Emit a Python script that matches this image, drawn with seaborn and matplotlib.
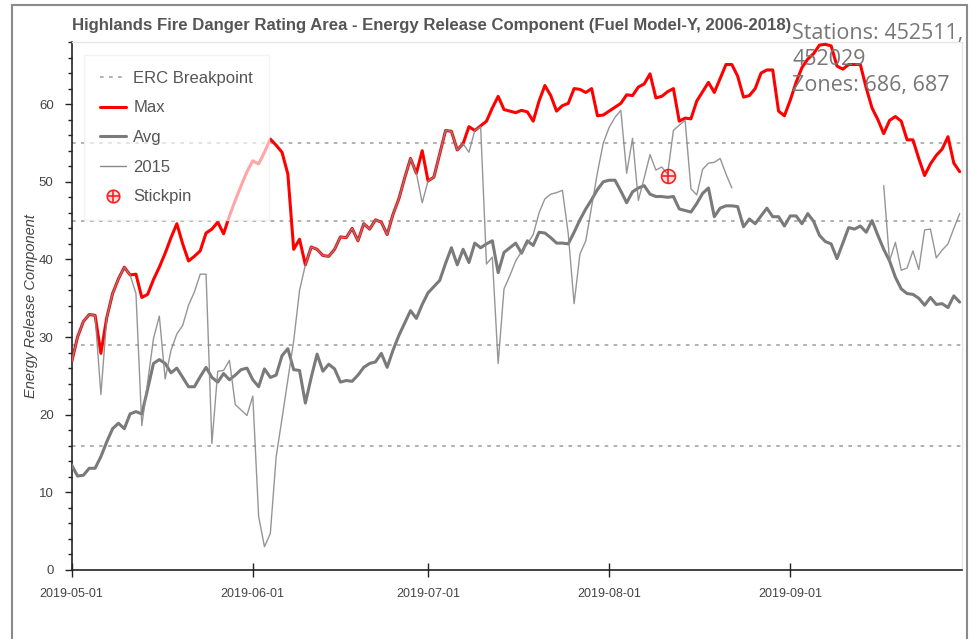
import numpy as np
import pandas as pd
import matplotlib
matplotlib.use("Agg")
import matplotlib.pyplot as plt
import matplotlib.dates as mdates
from matplotlib.lines import Line2D
from matplotlib.legend_handler import HandlerTuple
from matplotlib.ticker import MultipleLocator
import seaborn as sns

# Daily values, 2019-05-01 .. 2019-09-30
dates = pd.date_range("2019-05-01", "2019-09-30", freq="D")

max_erc = [
    26.8, 30.0, 32.0, 32.9, 32.8, 27.9, 32.5, 35.6, 37.5, 39.0,
    38.0, 38.1, 35.1, 35.5, 37.4, 39.0, 40.8, 42.8, 44.6, 42.0,
    39.8, 40.4, 41.1, 43.4, 43.9, 44.8, 43.3, 45.6, 47.6, 49.5,
    51.3, 52.7, 52.3, 53.8, 55.5, 54.7, 53.8, 51.0, 41.3, 42.6,
    39.3, 41.6, 41.3, 40.5, 40.4, 41.3, 42.9, 42.8, 44.0, 42.4,
    44.6, 43.9, 45.1, 44.8, 43.2, 45.8, 47.8, 50.5, 53.0, 51.1,
    54.0, 50.1, 50.6, 53.6, 56.6, 56.5, 54.1, 54.9, 57.1, 56.6,
    57.2, 57.8, 59.5, 61.0, 59.3, 59.1, 58.9, 59.2, 59.0, 57.8,
    60.4, 62.4, 61.1, 59.1, 59.8, 60.1, 62.0, 61.9, 61.5, 62.0,
    58.5, 58.6, 59.1, 59.6, 60.1, 61.2, 61.1, 62.2, 62.6, 63.9,
    60.8, 61.0, 61.6, 62.0, 57.8, 58.2, 58.1, 60.4, 61.6, 62.8,
    61.5, 63.3, 65.1, 65.1, 63.6, 60.9, 61.1, 62.0, 64.0, 64.4,
    64.4, 59.1, 58.5, 60.5, 62.8, 64.7, 65.8, 66.5, 67.6, 67.7,
    67.5, 64.9, 64.5, 65.1, 65.1, 65.1, 62.1, 59.5, 58.0, 56.2,
    57.9, 58.4, 57.8, 55.4, 55.4, 53.0, 50.8, 52.3, 53.4, 54.2,
    55.8, 52.4, 51.3,
]

avg_erc = [
    13.5, 12.1, 12.2, 13.1, 13.1, 14.6, 16.5, 18.2, 18.9, 18.2,
    20.1, 20.4, 20.1, 23.3, 26.6, 27.1, 26.6, 25.4, 26.0, 24.8,
    23.6, 23.6, 24.9, 26.1, 24.8, 24.2, 25.3, 24.5, 25.1, 25.8,
    26.0, 24.5, 23.6, 25.9, 24.8, 25.1, 27.6, 28.5, 25.8, 25.7,
    21.5, 24.8, 27.8, 25.6, 26.5, 25.9, 24.2, 24.4, 24.3, 25.1,
    26.1, 26.6, 26.8, 27.9, 26.1, 28.3, 30.2, 31.8, 33.4, 32.4,
    34.2, 35.7, 36.5, 37.3, 39.5, 41.5, 39.3, 41.3, 39.6, 42.1,
    41.5, 42.0, 42.4, 38.3, 40.9, 41.5, 42.1, 40.8, 42.4, 41.8,
    43.5, 43.4, 42.8, 42.1, 42.1, 42.0, 43.5, 45.1, 46.5, 47.7,
    49.0, 50.0, 50.2, 50.2, 48.8, 47.3, 48.7, 49.2, 49.5, 48.4,
    48.1, 48.1, 48.0, 48.1, 46.5, 46.3, 46.1, 47.2, 48.5, 49.2,
    45.5, 46.6, 46.9, 46.9, 46.8, 44.2, 45.2, 44.6, 45.6, 46.6,
    45.5, 45.5, 44.3, 45.6, 45.6, 44.6, 45.9, 44.9, 43.1, 42.3,
    42.0, 40.1, 42.1, 44.1, 43.9, 44.3, 43.5, 45.0, 43.1, 41.3,
    39.8, 37.7, 36.2, 35.6, 35.5, 35.0, 34.1, 35.1, 34.2, 34.3,
    33.8, 35.3, 34.5,
]

nan = np.nan
erc_2015 = [
    26.8, 30.0, 32.0, 32.9, 32.8, 22.6, 32.5, 35.6, 37.5, 39.0,
    38.0, 35.6, 18.6, 24.2, 29.8, 32.7, 24.6, 28.3, 30.4, 31.5,
    34.1, 35.8, 38.1, 38.1, 16.3, 25.6, 25.7, 27.0, 21.3, 20.6,
    19.9, 22.4, 6.9, 3.0, 4.7, 14.6, 19.5, 24.5, 29.5, 36.0,
    39.3, 41.6, 41.3, 40.5, 40.4, 41.3, 42.9, 42.8, 44.0, 42.4,
    44.6, 43.9, 45.1, 44.8, 43.2, 45.8, 47.8, 50.5, 53.0, 51.1,
    47.3, 50.1, 50.6, 53.6, 56.6, 56.5, 54.1, 54.9, 53.8, 56.6,
    57.1, 39.4, 40.3, 26.6, 36.2, 37.9, 39.8, 41.0, 42.0, 43.2,
    46.0, 47.8, 48.4, 48.6, 48.9, 43.3, 34.3, 40.7, 42.4, 46.8,
    51.2, 55.0, 57.0, 58.3, 59.2, 51.1, 55.6, 47.6, 50.5, 53.5,
    51.5, 51.9, 51.0, 56.6, 57.3, 57.9, 49.1, 48.3, 51.6, 52.4,
    52.5, 53.0, 51.0, 49.2, nan, nan, nan, nan, nan, nan,
    nan, nan, nan, nan, nan, nan, nan, nan, nan, nan,
    nan, nan, nan, nan, nan, nan, nan, nan, nan, 49.5,
    39.8, 42.2, 38.6, 38.9, 41.1, 38.7, 43.8, 43.9, 40.2, 41.2,
    42.0, 44.0, 45.9,
]

breakpoints = [16, 29, 45, 55]
stickpin_date = pd.Timestamp("2019-08-11")
stickpin_value = 50.8

title = "Highlands Fire Danger Rating Area - Energy Release Component (Fuel Model-Y, 2006-2018)"
info_text = "Stations: 452511,\n452029\nZones: 686, 687"

df = pd.DataFrame({"date": dates, "Max": max_erc, "Avg": avg_erc, "2015": erc_2015})
# 2015 has a gap -> split into segments so the line is not joined across it
df["seg"] = df["2015"].isna().cumsum()
df_2015 = df.dropna(subset=["2015"])

sns.set_style("ticks")
plt.rcParams["font.family"] = ["Liberation Sans", "DejaVu Sans"]

fig = plt.figure(figsize=(9.71, 6.39), dpi=100)
ax = fig.add_axes([71.7 / 971, 1 - 570 / 639, (962 - 71.7) / 971, 528 / 639])

bp_color = "#aaaaaa"
for bp in breakpoints:
    ax.axhline(bp, color=bp_color, lw=1.3, ls=(0, (2, 3)), zorder=1)

sns.lineplot(data=df, x="date", y="Max", color="#ff0000", lw=2.2, ax=ax, zorder=3)
sns.lineplot(data=df, x="date", y="Avg", color="#7a7a7a", lw=2.2, ax=ax, zorder=3)
sns.lineplot(data=df_2015, x="date", y="2015", units="seg", estimator=None,
             color="#8a8a8a", lw=1.0, alpha=0.9, ax=ax, zorder=4)

pin = pd.DataFrame({"date": [stickpin_date], "val": [stickpin_value]})
sns.scatterplot(data=pin, x="date", y="val", marker="o", s=100,
                facecolor=(1, 0, 0, 0.12), edgecolor="#ff2020", linewidth=1.2,
                ax=ax, zorder=5)
sns.scatterplot(data=pin, x="date", y="val", marker="+", s=100,
                color="#ff2020", linewidth=1.2, ax=ax, zorder=5)

ax.set_xlim(dates[0], dates[0] + pd.Timedelta(days=152.4))
ax.set_ylim(0, 68)
ax.xaxis.set_major_locator(mdates.MonthLocator())
ax.xaxis.set_major_formatter(mdates.DateFormatter("%Y-%m-%d"))
ax.yaxis.set_major_locator(MultipleLocator(10))
ax.yaxis.set_minor_locator(MultipleLocator(2))
ax.tick_params(axis="x", direction="inout", length=10, width=1, colors="#222",
               labelcolor="#444", labelsize=9, pad=8)
ax.tick_params(axis="y", which="major", length=5, width=1, colors="#222",
               labelcolor="#444", labelsize=9.5, pad=8)
ax.tick_params(axis="y", which="minor", length=3, width=1, colors="#222")

ax.set_xlabel("")
ax.set_ylabel("Energy Release Component", fontstyle="italic", color="#444", fontsize=10.5)
ax.yaxis.set_label_coords((38 - 71.7) / 890.3, 0.5)

for side in ["top", "right"]:
    ax.spines[side].set_color("#e6e6e6")
    ax.spines[side].set_linewidth(1)
for side in ["left", "bottom"]:
    ax.spines[side].set_color("#222")
    ax.spines[side].set_linewidth(1.2)

handles = [
    Line2D([], [], color=bp_color, lw=1.3, ls=(0, (2, 3))),
    Line2D([], [], color="#ff0000", lw=2.2),
    Line2D([], [], color="#7a7a7a", lw=2.2),
    Line2D([], [], color="#8a8a8a", lw=1.0),
    (Line2D([], [], ls="", marker="o", ms=9, mfc=(1, 0, 0, 0.12), mec="#ff2020", mew=1.2),
     Line2D([], [], ls="", marker="+", ms=9, color="#ff2020", mew=1.2)),
]
labels = ["ERC Breakpoint", "Max", "Avg", "2015", "Stickpin"]
leg = ax.legend(handles, labels, loc="upper left",
                bbox_to_anchor=((84.3 - 71.7) / 890.3, 1 - 13 / 528),
                borderaxespad=0, fontsize=12, labelspacing=0.88,
                handlelength=1.55, handletextpad=0.45, borderpad=0.95,
                frameon=True, framealpha=0.65, edgecolor="#eeeeee",
                fancybox=False, handler_map={tuple: HandlerTuple(ndivide=1)})
leg.get_frame().set_linewidth(1)
for t in leg.get_texts():
    t.set_color("#555")
leg.set_zorder(6)

t_title = fig.text(72 / 971, 1 - 30 / 639, title, fontsize=10.5, fontweight="bold",
                   color="#555", ha="left", va="baseline")
fig.canvas.draw()
w = t_title.get_window_extent().width
t_title.set_fontsize(10.5 * 728 / w)

fig.text(792 / 971, 1 - 23 / 639, info_text, fontsize=15.5, color="#777",
         family=["Open Sans", "DejaVu Sans"], ha="left", va="top", linespacing=1.3)

# outer frame of the screenshot
fig.add_artist(Line2D([12 / 971, 12 / 971], [0, 1 - 5 / 639], color="#8a8a8a", lw=1.5,
                      transform=fig.transFigure))
fig.add_artist(Line2D([12 / 971, 967 / 971], [1 - 5 / 639, 1 - 5 / 639], color="#8a8a8a",
                      lw=1.5, transform=fig.transFigure))
fig.add_artist(Line2D([967 / 971, 967 / 971], [0, 1 - 5 / 639], color="#8a8a8a", lw=1.5,
                      transform=fig.transFigure))

fig.savefig("out.png", dpi=100)
